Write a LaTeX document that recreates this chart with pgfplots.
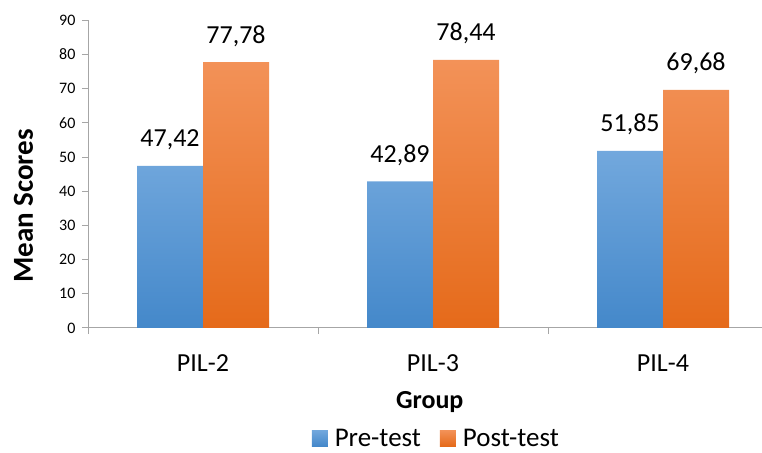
\documentclass[border=0pt]{standalone}
\usepackage{fontspec}
\setmainfont{Carlito}
\usepackage{pgfplots}
\pgfplotsset{compat=1.18}
\definecolor{bluetop}{RGB}{114,168,221}
\definecolor{bluebot}{RGB}{68,136,202}
\definecolor{orgtop}{RGB}{243,146,88}
\definecolor{orgbot}{RGB}{229,106,26}
\definecolor{axgray}{RGB}{166,166,166}
\pgfplotsset{sqlegend/.style={legend image code/.code={\fill[##1,draw=none] (0pt,-8pt) rectangle (16pt,8pt); \path (16pt,0pt) -- (22pt,0pt);}}}
\begin{document}
\begin{tikzpicture}
\useasboundingbox (0,0) rectangle (762pt,452pt);
\begin{axis}[
 at={(88pt,124pt)}, anchor=south west,
 scale only axis, width=674pt, height=307.6pt,
 xmin=-0.5, xmax=2.4304, ymin=0, ymax=90,
 axis x line*=bottom, axis y line*=left,
 x axis line style={-}, y axis line style={-},
 axis line style={axgray, line width=1pt},
 ybar=0pt, bar width=66pt,
 ytick={0,10,...,90},
 tick align=outside,
 major tick length=6pt,
 tick style={axgray, line width=1pt},
 /pgf/number format/assume math mode=true,
 yticklabel style={font=\fontsize{16}{19}\selectfont, xshift=-3pt},
 xtick={-0.5,0.5,1.5}, xticklabels={},
 extra x ticks={0,1,2},
 extra x tick labels={PIL-2,PIL-3,PIL-4},
 extra x tick style={major tick length=0pt, tick style={draw=none},
   tick label style={font=\fontsize{26}{31}\selectfont, anchor=base, yshift=-43pt}},
 xlabel={\textbf{Group}},
 every axis x label/.style={at={(axis description cs:0.507,-0.263)}, anchor=base, font=\fontsize{26}{31}\selectfont},
 ylabel={\textbf{Mean Scores}},
 every axis y label/.style={at={(axis description cs:-0.0816,0.397)}, anchor=base, rotate=90, font=\fontsize{29}{34}\selectfont},
 nodes near coords={\pgfmathprintnumber[use comma,fixed,fixed zerofill,precision=2]{\pgfplotspointmeta}},
 nodes near coords style={font=\fontsize{26}{31}\selectfont, anchor=base, yshift=19pt, text=black},
 legend style={at={(axis description cs:0.516,-0.358)}, anchor=center, draw=none,
   inner sep=0pt, nodes={inner sep=1pt},
   font=\fontsize{27}{32}\selectfont, legend columns=2,
   /tikz/every even column/.append style={column sep=18pt}},
]
\addplot[draw=none, top color=bluetop, bottom color=bluebot, sqlegend]
  coordinates {(0,47.42) (1,42.89) (2,51.85)};
\addplot[draw=none, top color=orgtop, bottom color=orgbot, sqlegend]
  coordinates {(0,77.78) (1,78.44) (2,69.68)};
\legend{Pre-test,Post-test}
\end{axis}
\end{tikzpicture}
\end{document}
